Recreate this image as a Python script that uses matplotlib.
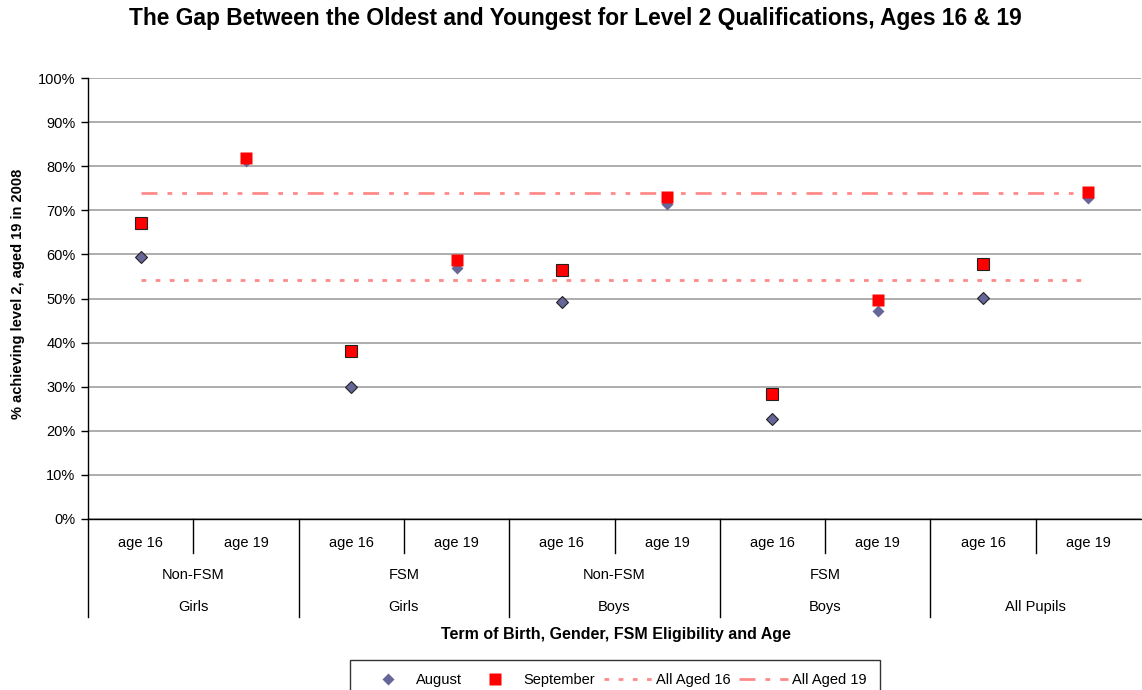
import matplotlib.pyplot as plt
from matplotlib.transforms import blended_transform_factory
from matplotlib.ticker import PercentFormatter
from matplotlib.lines import Line2D

plt.rcParams['font.family'] = ['Liberation Sans', 'DejaVu Sans']
plt.rcParams['lines.scale_dashes'] = False

# data (percent achieving level 2)
ages = ['age 16', 'age 19'] * 5
fsm_groups = ['Non-FSM', 'FSM', 'Non-FSM', 'FSM', '']
gender_groups = ['Girls', 'Girls', 'Boys', 'Boys', 'All Pupils']
august = [59.3, 81.2, 29.9, 56.9, 49.2, 71.4, 22.7, 47.2, 50.1, 72.8]
september = [67.1, 81.9, 38.1, 58.7, 56.5, 73.0, 28.3, 49.7, 57.8, 74.1]
all_aged_16 = 54.2
all_aged_19 = 73.9

W, H = 1142, 690
fig = plt.figure(figsize=(W / 100, H / 100), dpi=100)
ax = fig.add_axes([88 / W, 1 - 519 / H, 1053 / W, 441 / H])

x = list(range(len(ages)))
aug_col = '#666699'
sep_col = '#ff0000'
line_col = '#ff8a8a'
dash16 = (3.4, 6.8)
dash19 = (11.5, 7.2, 3.4, 7.2, 3.4, 7.2)

# reference lines across the categories
ax.plot([x[0], x[-1]], [all_aged_16] * 2, color=line_col, lw=2, dashes=dash16, zorder=2)
ax.plot([x[0], x[-1]], [all_aged_19] * 2, color=line_col, lw=2, dashes=dash19, zorder=2)

# age 16 points have a black outline, age 19 points don't
ax.plot(x[0::2], august[0::2], 'D', ms=6.2, mfc=aug_col, mec='#222222', mew=0.8, zorder=3)
ax.plot(x[0::2], september[0::2], 's', ms=8.5, mfc=sep_col, mec='#222222', mew=0.8, zorder=4)
ax.plot(x[1::2], august[1::2], 'D', ms=6.4, mfc=aug_col, mec='none', zorder=3)
ax.plot(x[1::2], september[1::2], 's', ms=8.8, mfc=sep_col, mec='none', zorder=4)

ax.set_xlim(-0.5, len(ages) - 0.5)
ax.set_ylim(0, 100)
ax.set_yticks(range(0, 101, 10))
ax.yaxis.set_major_formatter(PercentFormatter(decimals=0))
ax.tick_params(axis='y', length=5, width=1, direction='out', labelsize=10.5, pad=4)
ax.set_xticks([])
ax.grid(axis='y', color='#a0a0a0', lw=1.2)
ax.set_axisbelow(True)
for s in ['top', 'right']:
    ax.spines[s].set_visible(False)
ax.spines['left'].set_linewidth(1)
ax.spines['bottom'].set_linewidth(1)

# multi-level category axis
tr = blended_transform_factory(ax.transData, ax.transAxes)
ph = 441.0
for i, a in enumerate(ages):
    ax.text(i, -24 / ph, a, transform=tr, ha='center', va='center', fontsize=10.5)
for g in range(5):
    c = 2 * g + 0.5
    if fsm_groups[g]:
        ax.text(c, -56 / ph, fsm_groups[g], transform=tr, ha='center', va='center', fontsize=10.5)
    ax.text(c, -88 / ph, gender_groups[g], transform=tr, ha='center', va='center', fontsize=10.5)
    ax.plot([2 * g - 0.5] * 2, [0, -98 / ph], color='black', lw=1, transform=tr, clip_on=False)
    ax.plot([2 * g + 0.5] * 2, [0, -34 / ph], color='black', lw=1, transform=tr, clip_on=False)

fig.text(616 / W, 1 - 635 / H, 'Term of Birth, Gender, FSM Eligibility and Age',
         ha='center', va='center', fontsize=11.5, fontweight='bold')
fig.text(18 / W, 1 - 294 / H, '% achieving level 2, aged 19 in 2008', rotation=90,
         ha='center', va='center', fontsize=10.5, fontweight='bold')
fig.text(575 / W, 1 - 18 / H,
         'The Gap Between the Oldest and Youngest for Level 2 Qualifications, Ages 16 & 19',
         ha='center', va='center', fontsize=16.4, fontweight='bold')

handles = [
    Line2D([], [], ls='none', marker='D', ms=6.4, mfc=aug_col, mec='none'),
    Line2D([], [], ls='none', marker='s', ms=8.5, mfc=sep_col, mec='none'),
    Line2D([], [], color=line_col, lw=2, dashes=dash16),
    Line2D([], [], color=line_col, lw=2, dashes=(11.5, 7.2, 3.4, 7.2)),
]
leg = fig.legend(handles, ['August', 'September', 'All Aged 16', 'All Aged 19'],
                 loc='upper center', bbox_to_anchor=(615 / W, 1 - 660 / H), ncol=4,
                 fontsize=10.5, frameon=True, fancybox=False, edgecolor='black',
                 handlelength=3.3, columnspacing=0.6, handletextpad=0.3,
                 borderpad=0.9, borderaxespad=0)
leg.get_frame().set_linewidth(1)

fig.savefig('out.png', dpi=100)
